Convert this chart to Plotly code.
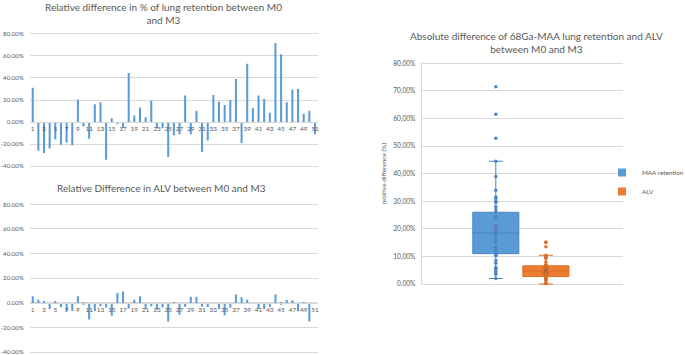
import numpy as np
import plotly.graph_objects as go

# ---------------- data (percent) ----------------
patients = list(range(1, 52))
lung_retention_rel_diff = [31, -26, -28, -24, -15.5, -20.6, -18.5, -21, 20.4, -4,
                           -15, 16.2, 18, -34, 3.5, -2, -5.5, 44.5, 6, 13.3,
                           4.5, 19.4, -5.5, -5.5, -31.5, -12, -11, 24, -11, 10.3,
                           -27, -16.7, 24.5, 18.5, 15.5, 20, 39, -19, 52.8, 12.5,
                           24, 21, 8.5, 71.5, 61.5, 18, 29.5, 30, 7.5, 10.3, -11]
alv_rel_diff = [5.5, 2.7, 1.6, -4.9, 1.6, -3.3, -7, -6.6, 5.5, -1.4,
                -13.5, -6.6, -2.7, -3.6, -10.4, 8, 9.3, -4.4, 2.7, 5.5,
                -4.7, -2.7, -5.5, -3.6, -15.1, -0.3, -9.6, -3, 5, 5,
                -3, -3.3, 0, -4.9, -9.9, -3.8, 6.8, 4.7, 2.6, 0,
                -4.9, -5.2, -3.3, 6.8, -1.4, 2.6, 2.2, -6.7, -0.3, -15.1, 0]
x_tick_labels = list(range(1, 52, 2))
left_y_ticks = [-40, -20, 0, 20, 40, 60, 80]
right_y_ticks = [0, 10, 20, 30, 40, 50, 60, 70, 80]
series_names = ["MAA retention", "ALV"]

abs_lung = np.abs(lung_retention_rel_diff)
abs_alv = np.abs(alv_rel_diff)

# ---------------- style ----------------
W, H = 685, 355
FONT = "Lato"
TXT = "#595959"
GRID = "#D9D9D9"
BLUE = "#5B9BD5"
ORANGE = "#ED7D31"


def fx(p):
    return p / W


def fy(p):
    return 1 - p / H


fig = go.Figure()

fig.add_trace(go.Bar(x=patients, y=lung_retention_rel_diff, xaxis="x", yaxis="y",
                     marker=dict(color=BLUE, line=dict(width=0)), width=0.36,
                     showlegend=False))
fig.add_trace(go.Bar(x=patients, y=alv_rel_diff, xaxis="x2", yaxis="y2",
                     marker=dict(color=BLUE, line=dict(width=0)), width=0.36,
                     showlegend=False))

box_data = [(series_names[0], abs_lung, BLUE, "#4A86C5"),
            (series_names[1], abs_alv, ORANGE, "#D96E25")]
for name, vals, fill, edge in box_data:
    fig.add_trace(go.Box(y=vals, x=[name] * len(vals), name=name,
                         xaxis="x3", yaxis="y3", showlegend=False,
                         boxpoints="all", jitter=0, pointpos=0,
                         quartilemethod="exclusive",
                         fillcolor=fill, line=dict(color=edge, width=1),
                         marker=dict(color=edge, size=3.5),
                         whiskerwidth=0.3))
for name, vals, fill, edge in box_data:
    fig.add_trace(go.Scatter(x=[name], y=[float(np.mean(vals))], xaxis="x3", yaxis="y3",
                             mode="markers", showlegend=False,
                             marker=dict(symbol="x-thin-open", size=6,
                                         line=dict(color=edge, width=1))))
# legend swatches (square, like the original)
for name, vals, fill, edge in box_data:
    fig.add_trace(go.Scatter(x=[None], y=[None], xaxis="x3", yaxis="y3", name=name,
                             mode="markers", showlegend=True,
                             marker=dict(symbol="square", size=8, color=fill)))

# geometry
xdom = [fx(29.9), fx(317.8)]
y1r, y1d = [-41, 81], [fy(167.4), fy(32.6)]
y2r, y2d = [-41, 81], [fy(353.5), fy(203.1)]


def zero_pos(r, d):
    return d[0] + (0 - r[0]) / (r[1] - r[0]) * (d[1] - d[0])


tickfont = dict(family=FONT, size=6.2, color=TXT)
common_x = dict(range=[0.5, 51.5], domain=xdom, tickvals=x_tick_labels,
                ticktext=[str(v) for v in x_tick_labels], showgrid=False,
                showline=True, linecolor=GRID, linewidth=1, ticks="",
                zeroline=False, tickfont=dict(family=FONT, size=6.5, color=TXT),
                anchor="free", side="bottom", tickangle=0, automargin=False,
                ticklabeloverflow="allow")
common_y = dict(tickvals=left_y_ticks, ticktext=[f"{v:.2f}%" for v in left_y_ticks],
                showgrid=True, gridcolor=GRID, gridwidth=1, zeroline=False,
                showline=False, ticks="", tickfont=tickfont, ticklabelstandoff=5,
                automargin=False, ticklabeloverflow="allow")

fig.update_layout(
    template="none",
    width=W, height=H,
    margin=dict(l=0, r=0, t=0, b=0, pad=0, autoexpand=False),
    paper_bgcolor="white", plot_bgcolor="white",
    font=dict(family=FONT, color=TXT),
    bargap=0.6,
    boxmode="overlay", boxgap=0.08, boxgroupgap=0,
    xaxis=dict(common_x, position=zero_pos(y1r, y1d)),
    yaxis=dict(common_y, range=y1r, domain=y1d, anchor="x"),
    xaxis2=dict(common_x, position=zero_pos(y2r, y2d)),
    yaxis2=dict(common_y, range=y2r, domain=y2d, anchor="x2"),
    xaxis3=dict(domain=[fx(421.7), fx(623)], anchor="y3", type="category",
                categoryorder="array", categoryarray=series_names,
                range=[-1.48, 2.54], showticklabels=False, showgrid=False,
                zeroline=False, showline=False, ticks="", automargin=False),
    yaxis3=dict(domain=[fy(285.1), fy(62.2)], anchor="x3", range=[-0.4, 80.4],
                tickvals=right_y_ticks,
                ticktext=[f"{v:.2f}".replace(".", ",") + "%" for v in right_y_ticks],
                showgrid=True, gridcolor=GRID, zeroline=False, showline=True,
                linecolor=GRID, ticks="", ticklabelstandoff=4, automargin=False,
                tickfont=dict(family=FONT, size=6.6, color=TXT),
                title=dict(text="relative difference (%)",
                           font=dict(family=FONT, size=6.5, color=TXT), standoff=6)),
    legend=dict(x=fx(602), y=fy(158), xanchor="left", yanchor="top",
                font=dict(family=FONT, size=6.3, color=TXT),
                bgcolor="rgba(0,0,0,0)", tracegroupgap=4, itemwidth=30),
    annotations=[
        dict(text="Relative difference in % of lung retention between M0<br>and M3",
             x=fx(163), y=fy(14), xref="paper", yref="paper", showarrow=False,
             xanchor="center", yanchor="middle",
             font=dict(family=FONT, size=10, color=TXT)),
        dict(text="Relative Difference in ALV between M0 and M3",
             x=fx(161), y=fy(188), xref="paper", yref="paper", showarrow=False,
             xanchor="center", yanchor="middle",
             font=dict(family=FONT, size=10, color=TXT)),
        dict(text="Absolute difference of 68Ga-MAA lung retention and ALV<br>between M0 and M3",
             x=fx(536.5), y=fy(42.5), xref="paper", yref="paper", showarrow=False,
             xanchor="center", yanchor="middle",
             font=dict(family=FONT, size=10, color=TXT)),
    ],
)

fig.write_html("out.html",
               config={"displayModeBar": False},
               post_script="document.body.style.margin='0';"
                           "document.body.style.overflow='hidden';")
